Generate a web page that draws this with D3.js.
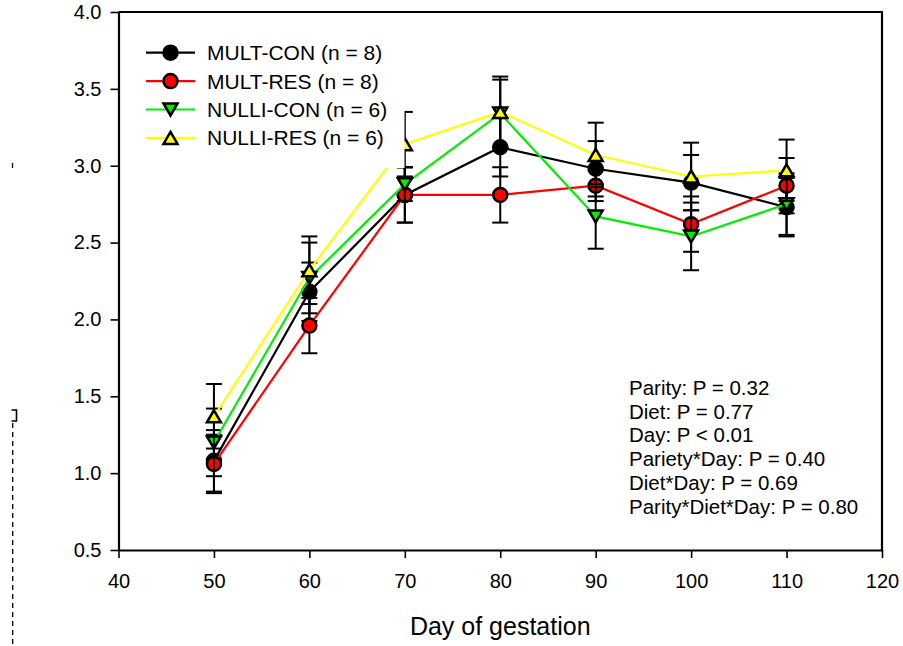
<!DOCTYPE html>
<html>
<head>
<meta charset="utf-8">
<script src="https://cdn.jsdelivr.net/npm/d3@7"></script>
<style>
  html, body { margin: 0; padding: 0; background: #fff; }
  svg { display: block; font-family: "Liberation Sans", Arial, sans-serif; }
</style>
</head>
<body>
<svg id="chart" width="903" height="646"></svg>
<script>
// ---- data ----
const days = [50, 60, 70, 80, 90, 100, 110];
const multCon    = [1.08, 2.18, 2.81, 3.12, 2.98, 2.89, 2.73];
const multConSE  = [0.20, 0.19, 0.18, 0.19, 0.18, 0.18, 0.19];
const multRes    = [1.06, 1.96, 2.81, 2.81, 2.87, 2.62, 2.87];
const multResSE  = [0.19, 0.18, 0.18, 0.18, 0.10, 0.18, 0.18];
const nulliCon   = [1.20, 2.27, 2.88, 3.34, 2.67, 2.54, 2.75];
const nulliConSE = [0.22, 0.23, 0.11, 0.22, 0.21, 0.22, 0.20];
const nulliRes   = [1.37, 2.32, 3.14, 3.35, 3.07, 2.93, 2.97];
const nulliResSE = [0.21, 0.22, 0.21, 0.23, 0.21, 0.22, 0.20];
const seriesNames = ["MULT-CON (n = 8)", "MULT-RES (n = 8)", "NULLI-CON (n = 6)", "NULLI-RES (n = 6)"];
const xTicks = [40, 50, 60, 70, 80, 90, 100, 110, 120];
const yTicks = [0.5, 1.0, 1.5, 2.0, 2.5, 3.0, 3.5, 4.0];
const statLines = [
  "Parity: P = 0.32",
  "Diet: P = 0.77",
  "Day: P < 0.01",
  "Pariety*Day: P = 0.40",
  "Diet*Day: P = 0.69",
  "Parity*Diet*Day: P = 0.80"
];
const xTitle = "Day of gestation";

// ---- styles ----
const series = [
  { name: seriesNames[0], vals: multCon,  se: multConSE,  color: "#000000", fill: "#000000", shape: "circle" },
  { name: seriesNames[1], vals: multRes,  se: multResSE,  color: "#ff0000", fill: "#ff0000", shape: "circle" },
  { name: seriesNames[2], vals: nulliCon, se: nulliConSE, color: "#00ee00", fill: "#00ee00", shape: "down" },
  { name: seriesNames[3], vals: nulliRes, se: nulliResSE, color: "#ffff00", fill: "#ffff00", shape: "up" }
];

const svg = d3.select("#chart");
const L = 118.5, R = 882, T = 12, B = 550;
const x = d3.scaleLinear().domain([40, 120]).range([L, R]);
const y = d3.scaleLinear().domain([0.5, 4.0]).range([B, T]);

// left artifact (cropped rotated label remnant)
const art = svg.append("g").attr("stroke", "#000").attr("fill", "none").attr("stroke-width", 1.3);
art.append("line").attr("x1", 12.7).attr("x2", 12.7).attr("y1", 423).attr("y2", 646)
  .attr("stroke-dasharray", "5,4");
art.append("path").attr("d", "M11.5,410 L16.5,410 L16.5,421 L11.5,421").attr("stroke-width", 1.6);
art.append("line").attr("x1", 12.5).attr("x2", 12.5).attr("y1", 163).attr("y2", 168);

// axes
const yAxis = d3.axisLeft(y).tickValues(yTicks).tickFormat(d3.format(".1f"))
  .tickSize(8).tickSizeOuter(0).tickPadding(9);
const xAxis = d3.axisBottom(x).tickValues(xTicks).tickFormat(d3.format("d"))
  .tickSize(8).tickSizeOuter(0).tickPadding(16);

const gy = svg.append("g").attr("transform", `translate(${L},0)`).call(yAxis);
const gx = svg.append("g").attr("transform", `translate(0,${B})`).call(xAxis);
[gx, gy].forEach(g => {
  g.selectAll("path.domain").attr("stroke", "#000").attr("stroke-width", 2.2);
  g.selectAll(".tick line").attr("stroke", "#000").attr("stroke-width", 1.6);
  g.selectAll(".tick text").attr("fill", "#000").style("font-size", "20px")
    .style("font-family", "'Liberation Sans', Arial, sans-serif");
});

// frame top / right
svg.append("path").attr("d", `M${L},${T}H${R}V${B}`).attr("fill", "none")
  .attr("stroke", "#000").attr("stroke-width", 2.2);

// x title
svg.append("text").attr("x", (L + R) / 2).attr("y", 635).attr("text-anchor", "middle")
  .style("font-size", "25px").attr("fill", "#000").text(xTitle);

// symbol drawing
function drawSymbol(g, shape, cx, cy, fill, scale = 1) {
  if (shape === "circle") {
    g.append("circle").attr("cx", cx).attr("cy", cy).attr("r", 7 * scale)
      .attr("fill", fill).attr("stroke", "#000").attr("stroke-width", 2.5);
  } else {
    const w = 7 * scale, h = 6 * scale;
    const d = shape === "up"
      ? `M${cx},${cy - h}L${cx + w},${cy + h}L${cx - w},${cy + h}Z`
      : `M${cx},${cy + h}L${cx + w},${cy - h}L${cx - w},${cy - h}Z`;
    g.append("path").attr("d", d).attr("fill", fill).attr("stroke", "#000")
      .attr("stroke-width", 2.5).attr("stroke-linejoin", "miter");
  }
}

const plot = svg.append("g");
const line = d3.line().x((d, i) => x(days[i])).y(d => y(d));
series.forEach(s => {
  const g = plot.append("g");
  g.append("path").datum(s.vals).attr("d", line).attr("fill", "none")
    .attr("stroke", s.color).attr("stroke-width", 2.2);
  s.vals.forEach((v, i) => {
    const cx = x(days[i]);
    const y1 = y(v + s.se[i]), y2 = y(v - s.se[i]);
    g.append("line").attr("x1", cx).attr("x2", cx).attr("y1", y1).attr("y2", y2)
      .attr("stroke", "#000").attr("stroke-width", 2);
    [y1, y2].forEach(yy => g.append("line").attr("x1", cx - 8).attr("x2", cx + 8)
      .attr("y1", yy).attr("y2", yy).attr("stroke", "#000").attr("stroke-width", 2));
  });
  s.vals.forEach((v, i) => drawSymbol(g, s.shape, x(days[i]), y(v), s.fill));
});

// legend (white box covers lines beneath)
const leg = svg.append("g");
leg.append("rect").attr("x", 135).attr("y", 26).attr("width", 269.5).attr("height", 142)
  .attr("fill", "#fff");
series.forEach((s, i) => {
  const cy = 52.7 + i * 28.4;
  leg.append("line").attr("x1", 146).attr("x2", 195).attr("y1", cy).attr("y2", cy)
    .attr("stroke", s.color).attr("stroke-width", 2.2);
  drawSymbol(leg, s.shape, 170.5, cy, s.fill);
  leg.append("text").attr("x", 207).attr("y", cy).attr("dy", "0.36em")
    .style("font-size", "21px").attr("fill", "#000").text(s.name);
});

// stats text
const st = svg.append("g");
statLines.forEach((t, i) => {
  st.append("text").attr("x", 629).attr("y", 395 + i * 23.7)
    .style("font-size", "20.5px").attr("fill", "#000").text(t);
});
</script>
</body>
</html>
